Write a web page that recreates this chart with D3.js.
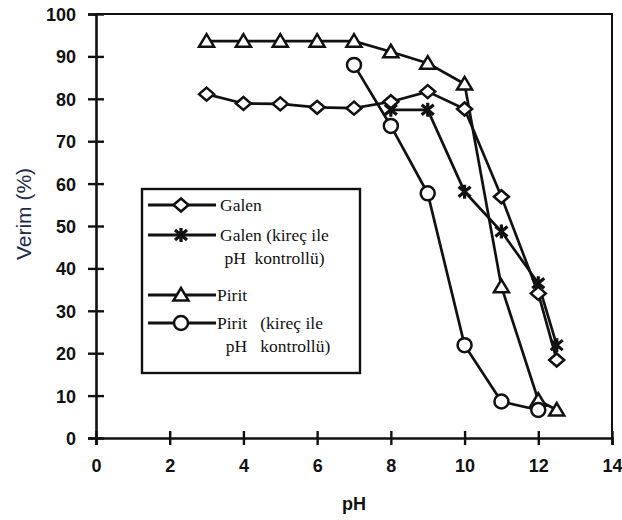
<!DOCTYPE html>
<html>
<head>
<meta charset="utf-8">
<script src="https://cdn.jsdelivr.net/npm/d3@7"></script>
<style>
  html, body { margin: 0; padding: 0; background: #fff; }
  svg text { white-space: pre; }
</style>
</head>
<body>
<div id="root"></div>
<script>
// pH values and yields (%)
const phGalen = [3, 4, 5, 6, 7, 8, 9, 10, 11, 12, 12.5];
const galen = [81.1, 78.9, 78.8, 78.0, 77.8, 79.3, 81.7, 77.6, 56.9, 34.1, 18.4];

const phGalenKirec = [8, 9, 10, 11, 12, 12.5];
const galenKirec = [77.4, 77.4, 58.1, 48.7, 36.5, 21.9];

const phPirit = [3, 4, 5, 6, 7, 8, 9, 10, 11, 12, 12.5];
const pirit = [93.6, 93.6, 93.6, 93.6, 93.6, 91.1, 88.4, 83.5, 35.7, 8.9, 6.6];

const phPiritKirec = [7, 8, 9, 10, 11, 12];
const piritKirec = [88.0, 73.6, 57.7, 21.9, 8.6, 6.6];

const xTicks = [0, 2, 4, 6, 8, 10, 12, 14];
const yTicks = [0, 10, 20, 30, 40, 50, 60, 70, 80, 90, 100];

const legendLabels = [
    ["Galen"],
    ["Galen (kireç ile", " pH  kontrollü)"],
    ["Pirit"],
    ["Pirit   (kireç ile", "  pH   kontrollü)"]
];

const width = 622, height = 520;

const svg = d3.select("#root").append("svg")
    .attr("width", width)
    .attr("height", height);

const x = d3.scaleLinear().domain([0, 14]).range([96, 612]);
const y = d3.scaleLinear().domain([0, 100]).range([438, 14]);

// frame (top and right)
svg.append("path")
    .attr("d", `M${x(0)},${y(100)}H${x(14)}V${y(0)}`)
    .attr("fill", "none")
    .attr("stroke", "#111")
    .attr("stroke-width", 2);

// axes with ticks crossing the line
const xAxis = svg.append("g")
    .attr("transform", `translate(0,${y(0)})`)
    .call(d3.axisBottom(x).tickValues(xTicks).tickSizeOuter(0).tickSize(7).tickPadding(0));
xAxis.selectAll(".tick line").attr("y1", -7).attr("y2", 7);
xAxis.selectAll(".tick text").attr("y", 34).attr("dy", 0);

const yAxis = svg.append("g")
    .attr("transform", `translate(${x(0)},0)`)
    .call(d3.axisLeft(y).tickValues(yTicks).tickSizeOuter(0).tickSize(8));
yAxis.selectAll(".tick line").attr("x1", 8).attr("x2", -8);
yAxis.selectAll(".tick text").attr("x", -20).attr("dy", "0.36em");

svg.selectAll(".domain").attr("stroke", "#111").attr("stroke-width", 2.6);
svg.selectAll(".tick line").attr("stroke", "#111").attr("stroke-width", 2.4);
svg.selectAll(".tick text")
    .attr("fill", "#111")
    .style("font-family", "'Liberation Sans', Arial, sans-serif")
    .style("font-size", "18px")
    .style("font-weight", "bold");

// axis titles
svg.append("text")
    .attr("x", (x(0) + x(14)) / 2)
    .attr("y", 510)
    .attr("text-anchor", "middle")
    .style("font-family", "'Liberation Sans', Arial, sans-serif")
    .style("font-size", "18px")
    .style("font-weight", "bold")
    .attr("fill", "#111")
    .text("pH");

svg.append("text")
    .attr("transform", "translate(31,214) rotate(-90)")
    .attr("text-anchor", "middle")
    .style("font-family", "'Liberation Sans', Arial, sans-serif")
    .style("font-size", "21px")
    .attr("fill", "#1c2a4a")
    .text("Verim (%)");

// marker shapes
const markers = {
    diamond: g => g.append("path").attr("d", "M-7.5,0L0,-6.5L7.5,0L0,6.5Z")
        .attr("fill", "#fff").attr("stroke", "#111").attr("stroke-width", 2.5),
    star: g => g.append("path").attr("d", "M0,-7V7M-6,-5L6,5M-6,5L6,-5")
        .attr("fill", "none").attr("stroke", "#111").attr("stroke-width", 3.2),
    triangle: g => g.append("path").attr("d", "M-7.5,5.5L0,-7L7.5,5.5Z")
        .attr("fill", "#fff").attr("stroke", "#111").attr("stroke-width", 2.5),
    circle: g => g.append("circle").attr("r", 7)
        .attr("fill", "#fff").attr("stroke", "#111").attr("stroke-width", 2.5)
};

const series = [
    { xs: phPirit, ys: pirit, marker: "triangle" },
    { xs: phPiritKirec, ys: piritKirec, marker: "circle" },
    { xs: phGalenKirec, ys: galenKirec, marker: "star" },
    { xs: phGalen, ys: galen, marker: "diamond" }
];

const line = d3.line().x(d => x(d[0])).y(d => y(d[1]));

series.forEach(s => {
    const pts = s.xs.map((v, i) => [v, s.ys[i]]);
    svg.append("path")
        .datum(pts)
        .attr("d", line)
        .attr("fill", "none")
        .attr("stroke", "#111")
        .attr("stroke-width", 2.7);
});

series.forEach(s => {
    const pts = s.xs.map((v, i) => [v, s.ys[i]]);
    svg.selectAll(null)
        .data(pts)
        .enter().append("g")
        .attr("transform", d => `translate(${x(d[0])},${y(d[1])})`)
        .each(function () { markers[s.marker](d3.select(this)); });
});

// legend
const legend = svg.append("g");
legend.append("rect")
    .attr("x", 142).attr("y", 189)
    .attr("width", 218).attr("height", 184)
    .attr("fill", "#fff")
    .attr("stroke", "#111")
    .attr("stroke-width", 2.4);

const legendRows = [
    { y: 205, marker: "diamond", tx: 220 },
    { y: 235, marker: "star", tx: 220 },
    { y: 295, marker: "triangle", tx: 217 },
    { y: 323, marker: "circle", tx: 217 }
];

legendRows.forEach((r, i) => {
    legend.append("line")
        .attr("x1", 148).attr("x2", 216)
        .attr("y1", r.y).attr("y2", r.y)
        .attr("stroke", "#111").attr("stroke-width", 2.8);
    const g = legend.append("g").attr("transform", `translate(181,${r.y})`);
    markers[r.marker](g);
    legendLabels[i].forEach((t, j) => {
        legend.append("text")
            .attr("x", r.tx)
            .attr("y", r.y + 6 + j * 23)
            .style("font-family", "'Liberation Serif', 'Times New Roman', serif")
            .style("font-size", "17.5px")
            .attr("fill", "#111")
            .text(t);
    });
});
</script>
</body>
</html>
